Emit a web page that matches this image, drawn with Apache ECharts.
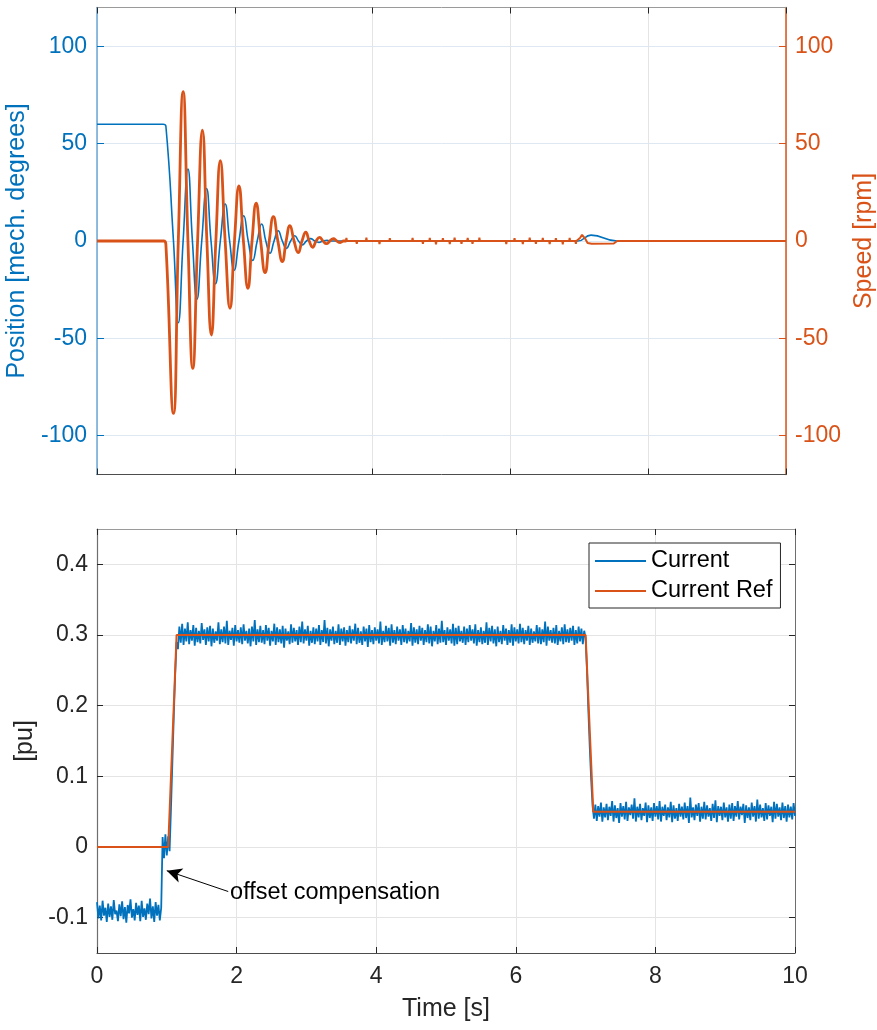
<!DOCTYPE html>
<html><head><meta charset="utf-8">
<script src="https://cdn.jsdelivr.net/npm/echarts@6/dist/echarts.min.js"></script>
<style>html,body{margin:0;padding:0;background:#fff}#c{width:877px;height:1030px}</style>
</head><body><div id="c"></div><script>
// ---------- top plot data ----------
const posT = [0, 0.96, 1.0, 1.11, 1.18, 1.25, 1.32, 1.385, 1.45, 1.52, 1.59, 1.655, 1.72, 1.79, 1.86, 1.925, 1.99, 2.06, 2.13, 2.195, 2.26, 2.325, 2.39, 2.45, 2.51, 2.57, 2.63, 2.69, 2.75, 2.81, 2.87, 2.925, 2.98, 3.04, 3.10, 3.16, 3.22, 3.28, 3.34, 3.40, 3.5, 6.98, 7.17, 7.55, 10];
const posV = [60, 60, 59, 0, -42, 0, 37, 0, -30, 0, 27, 0, -22, 0, 19, 0, -15, 0, 13, 0, -10, 0, 8.7, 0, -6.3, 0, 5.3, 0, -3.8, 0, 2.7, 0, -2, 0, 1.2, 0, -0.7, 0, 0.3, 0, 0, 0, 3, 0, 0];

const speedOscT = [0, 0.97, 1.0, 1.11, 1.18, 1.25, 1.32, 1.39, 1.46, 1.53, 1.595, 1.66, 1.725, 1.79, 1.86, 1.93, 1.995, 2.06, 2.125, 2.19, 2.25, 2.31, 2.375, 2.44, 2.50, 2.56, 2.625, 2.69, 2.745, 2.80, 2.86, 2.92, 2.975, 3.03, 3.08, 3.13, 3.18, 3.23, 3.28, 3.33, 3.38, 3.43, 3.48, 3.53, 3.58, 3.62];
const speedOscV = [0, 0, -2, -88.6, 0, 76.8, 0, -65.5, 0, 57, 0, -48.3, 0, 41.3, 0, -34.6, 0, 28.3, 0, -24.3, 0, 19.4, 0, -16.3, 0, 12.5, 0, -10.6, 0, 7.9, 0, -6, 0, 4.5, 0, -3.2, 0, 1.9, 0, -1.4, 0, 1.2, 0, -0.8, 0, 0];

const speedRestT = [3.62, 6.98, 7.01, 7.04, 7.08, 7.12, 7.18, 7.5, 7.55, 10];
const speedRestV = [0, 0, 1.5, 3.2, 1.5, -1, -1.4, -1.3, 0, 0];
const spikeT = [3.62, 3.77, 3.91, 4.10, 4.25, 4.58, 4.73, 4.83, 4.92, 5.02, 5.12, 5.19, 5.29, 5.38, 5.45, 5.55, 5.94, 6.06, 6.18, 6.28, 6.37, 6.47, 6.57, 6.66, 6.76, 6.86, 6.95];
const spikeV = [1.6, -1.5, 1.7, -1.6, 1.5, 1.6, -1.5, 1.6, -1.7, 1.5, -1.6, 1.7, -1.5, 1.6, -1.5, 1.7, -1.6, 1.5, -1.6, 1.7, -1.5, 1.6, -1.6, 1.5, -1.7, 1.6, -1.5];

const posTicks = [-100, -50, 0, 50, 100];

// ---------- bottom plot data ----------
const DT = 0.02; // sample spacing [s] of the measured current (values in milli-pu)
const currentMilli = [
-78,-101,-83,-104,-76,-97,-86,-106,-80,-99,
-84,-103,-75,-95,-90,-105,-81,-98,-77,-102,
-85,-107,-82,-94,-74,-100,-88,-104,-79,-96,
-83,-105,-76,-99,-87,-103,-80,-95,-73,-101,
-84,-106,-78,-97,-82,-104,-86,
14,-16,18,-12,15,-6,
55,120,185,245,290,
280,312,289,316,286,309,291,318,287,307,
292,314,285,310,290,306,288,317,293,308,
286,311,291,313,284,309,289,305,292,318,
287,308,290,312,288,320,286,306,293,310,
285,314,291,307,289,311,287,315,292,306,
288,309,284,312,291,321,286,308,290,313,
289,307,287,314,292,310,285,306,291,316,
286,311,290,308,288,313,282,309,292,305,
287,315,289,310,291,307,286,312,290,319,
288,308,292,313,285,306,289,311,287,309,
291,314,286,307,290,321,288,310,284,308,
292,312,287,306,289,315,286,309,291,311,
285,307,290,313,288,308,292,316,287,310,
289,305,286,312,291,309,283,314,290,307,
287,311,292,308,288,319,286,306,290,313,
291,310,285,315,289,307,287,312,292,308,
286,314,290,309,288,306,291,317,285,311,
289,308,287,313,292,310,286,307,290,315,
288,312,284,306,291,314,287,309,289,320,
290,307,286,311,292,308,288,316,285,310,
287,313,291,306,289,312,286,309,290,314,
292,308,288,315,285,307,290,311,287,306,
289,318,286,310,291,313,288,308,284,312,
290,306,287,314,292,309,286,307,289,315,
285,311,291,308,288,316,290,310,287,307,
292,313,286,309,289,305,291,314,288,311,
287,308,290,319,285,312,292,307,289,310,
288,314,286,306,291,311,287,315,290,308,
289,310,292,313,286,307,288,312,291,309,
287,306,
296,250,192,140,95,58,
40,60,37,58,43,63,36,56,42,61,
38,57,44,65,36,59,41,55,34,62,
43,58,39,64,37,56,45,60,40,69,
36,57,42,61,38,55,44,63,35,59,
41,56,37,62,43,58,39,65,36,57,
44,60,38,56,42,64,35,59,40,55,
37,61,43,57,39,63,41,58,34,70,
42,56,38,60,44,62,36,57,40,64,
39,59,43,55,37,61,41,66,35,58,
44,57,38,63,42,56,36,60,40,62,
37,58,43,65,39,57,45,61,34,59,
41,56,38,63,43,58,36,67,40,60,
42,55,37,62,39,59,44,57,35,64,
40,61,43,56,38,63,41,58,36,60,
42,57,39,62,44];
const refT = [0, 1.02, 1.14, 7.0, 7.11, 10];
const refV = [0, 0, 0.3, 0.3, 0.05, 0.05];
const curTicks = [-0.1, 0, 0.1, 0.2, 0.3, 0.4];
const annotTail = [1.88, -0.063];
const annotHead = [1.0, -0.0335];
const annotText = 'offset compensation';

// ---------- build ----------
const zip = (a, b) => a.map((t, i) => [t, b[i]]);
const posData = zip(posT, posV);
const speedOscData = zip(speedOscT, speedOscV);
let restPts = zip(speedRestT, speedRestV);
spikeT.forEach((t, i) => { restPts.push([t - 0.007, 0], [t, spikeV[i]], [t + 0.007, 0]); });
restPts.sort((a, b) => a[0] - b[0]);
const currentData = currentMilli.map((v, i) => [+(i * DT).toFixed(3), v / 1000]);
const refData = zip(refT, refV);

const FONT = 'Liberation Sans, Arial, Helvetica, sans-serif';
const BLUE = '#0072BD', ORANGE = '#D95319', DARK = '#262626';

function xAx(grid, pos, labels, opts) {
  return Object.assign({
    type: 'value', gridIndex: grid, position: pos, min: 0, max: 10, interval: 2,
    axisLine: { show: true, onZero: false, lineStyle: { color: pos === 'top' ? '#9a9a9a' : '#4d4d4d', width: 1 } },
    axisTick: { show: true, inside: true, length: 6, lineStyle: { color: DARK } },
    axisLabel: { show: labels, color: DARK, fontSize: 23, fontFamily: FONT, margin: 12 },
    splitLine: { show: pos === 'bottom', lineStyle: { color: '#e4e4e4', width: 1 } }
  }, opts || {});
}

const chart = echarts.init(document.getElementById('c'), null, { renderer: 'canvas' });
chart.setOption({
  animation: false,
  backgroundColor: '#fff',
  grid: [
    { left: 97, right: 91, top: 7.5, height: 467, outerBoundsMode: 'none' },
    { left: 97, right: 82, top: 529, height: 424, outerBoundsMode: 'none' }
  ],
  legend: {
    data: ['Current', 'Current Ref'], orient: 'vertical', left: 589, top: 543,
    padding: [6, 8, 5, 6], itemWidth: 51, itemHeight: 2, itemGap: 6, icon: 'rect',
    borderColor: DARK, borderWidth: 1, backgroundColor: '#fff',
    textStyle: { fontSize: 23.5, fontFamily: FONT, color: '#000', lineHeight: 24 }
  },
  xAxis: [
    xAx(0, 'bottom', false),
    xAx(0, 'top', false),
    xAx(1, 'bottom', true, { name: 'Time [s]', nameLocation: 'middle', nameGap: 44,
      nameTextStyle: { color: DARK, fontSize: 25, fontFamily: FONT } }),
    xAx(1, 'top', false)
  ],
  yAxis: [
    { type: 'value', gridIndex: 0, position: 'left', min: -120, max: 120,
      axisLine: { show: true, onZero: false, lineStyle: { color: '#6aa8d8', width: 1.5 } },
      axisTick: { show: true, inside: true, length: 7, customValues: posTicks, lineStyle: { color: BLUE } },
      axisLabel: { customValues: posTicks, color: BLUE, fontSize: 23, fontFamily: FONT, margin: 10 },
      splitLine: { show: true, lineStyle: { color: '#dde8f2', width: 1 } },
      name: 'Position [mech. degrees]', nameLocation: 'middle', nameRotate: 90, nameGap: 60,
      nameTextStyle: { color: BLUE, fontSize: 25, fontFamily: FONT } },
    { type: 'value', gridIndex: 0, position: 'right', min: -120, max: 120,
      axisLine: { show: true, onZero: false, lineStyle: { color: ORANGE, width: 1.5 } },
      axisTick: { show: true, inside: true, length: 7, customValues: posTicks, lineStyle: { color: ORANGE } },
      axisLabel: { customValues: posTicks, color: ORANGE, fontSize: 23, fontFamily: FONT, margin: 9 },
      splitLine: { show: false },
      name: 'Speed [rpm]', nameLocation: 'middle', nameRotate: 90, nameGap: 62,
      nameTextStyle: { color: ORANGE, fontSize: 25, fontFamily: FONT } },
    { type: 'value', gridIndex: 1, position: 'left', min: -0.15, max: 0.45,
      axisLine: { show: true, onZero: false, lineStyle: { color: '#6e6e6e', width: 1.2 } },
      axisTick: { show: true, inside: true, length: 6, customValues: curTicks, lineStyle: { color: DARK } },
      axisLabel: { customValues: curTicks, color: DARK, fontSize: 23, fontFamily: FONT, margin: 9 },
      splitLine: { show: true, lineStyle: { color: '#e4e4e4', width: 1 } },
      name: '[pu]', nameLocation: 'middle', nameRotate: 90, nameGap: 57,
      nameTextStyle: { color: DARK, fontSize: 25, fontFamily: FONT } },
    { type: 'value', gridIndex: 1, position: 'right', min: -0.15, max: 0.45,
      axisLine: { show: true, onZero: false, lineStyle: { color: '#6e6e6e', width: 1 } },
      axisTick: { show: true, inside: true, length: 6, customValues: curTicks, lineStyle: { color: DARK } },
      axisLabel: { show: false }, splitLine: { show: false } }
  ],
  series: [
    { name: 'Position', type: 'line', xAxisIndex: 0, yAxisIndex: 0, data: posData, smooth: 0.5,
      showSymbol: false, lineStyle: { color: BLUE, width: 1.6 }, itemStyle: { color: BLUE }, z: 2 },
    { name: 'SpeedOsc', type: 'line', xAxisIndex: 0, yAxisIndex: 1, data: speedOscData, smooth: 0.5,
      showSymbol: false, lineStyle: { color: ORANGE, width: 2.8 }, itemStyle: { color: ORANGE }, z: 3 },
    { name: 'SpeedRest', type: 'line', xAxisIndex: 0, yAxisIndex: 1, data: restPts,
      showSymbol: false, lineStyle: { color: ORANGE, width: 2 }, itemStyle: { color: ORANGE }, z: 3 },
    { name: 'Current', type: 'line', xAxisIndex: 2, yAxisIndex: 2, data: currentData,
      showSymbol: false, lineStyle: { color: BLUE, width: 1.8 }, itemStyle: { color: BLUE }, z: 2,
      markLine: { silent: true, animation: false, symbol: ['none', 'arrow'], symbolSize: [11, 15],
        lineStyle: { color: '#000', width: 1, type: 'solid' },
        label: { show: true, position: 'start', formatter: annotText, color: '#000', fontSize: 23.5, fontFamily: FONT, distance: 2 },
        emphasis: { disabled: true },
        data: [[{ coord: annotTail }, { coord: annotHead }]] } },
    { name: 'Current Ref', type: 'line', xAxisIndex: 2, yAxisIndex: 2, data: refData,
      showSymbol: false, lineStyle: { color: ORANGE, width: 2 }, itemStyle: { color: ORANGE }, z: 3 }
  ]
});
</script></body></html>
